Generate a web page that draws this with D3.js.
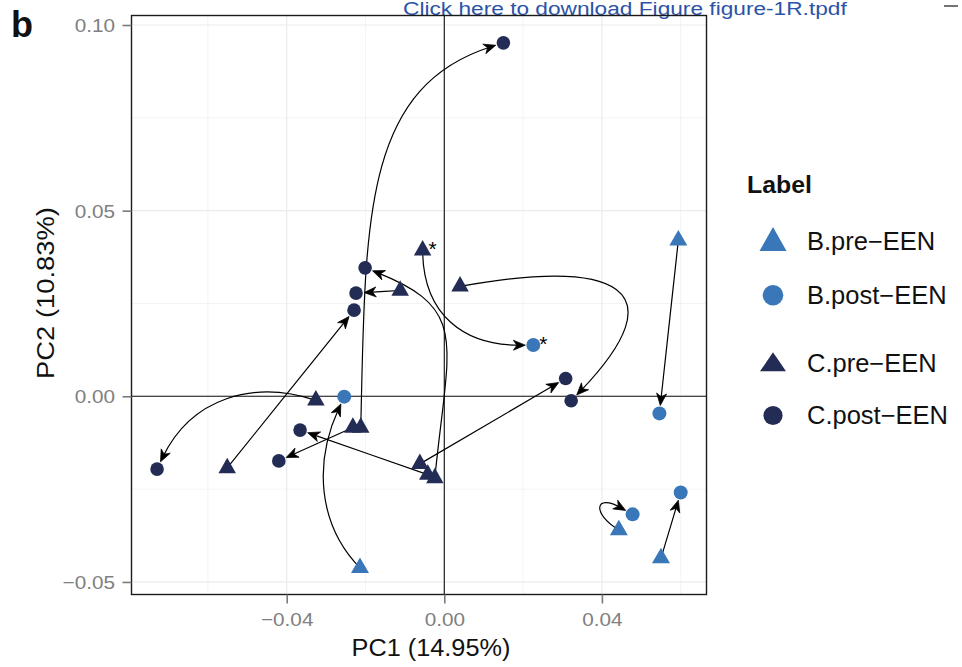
<!DOCTYPE html>
<html><head><meta charset="utf-8">
<script src="https://cdn.jsdelivr.net/npm/d3@7"></script>
<style>
html,body{margin:0;padding:0;background:#fff;}
svg{display:block;font-family:"Liberation Sans",Arial,Helvetica,sans-serif;}
</style>
</head><body>
<svg id="chart" width="962" height="667"></svg>
<script>
// ---------------- data ----------------
const groupNames = ["B.pre\u2212EEN", "B.post\u2212EEN", "C.pre\u2212EEN", "C.post\u2212EEN"];
const bPre  = [[0.0594, 0.0420], [-0.0214, -0.0462], [0.0443, -0.0360], [0.0550, -0.0436]];
const bPost = [[0.0226, 0.0138], [-0.0254, -0.0001], [0.0546, -0.0046], [0.0600, -0.0259], [0.0478, -0.0318]];
const cPre  = [[-0.0055, 0.0393], [-0.0112, 0.0285], [0.0040, 0.0296], [-0.0326, -0.0011], [-0.0232, -0.0084],
               [-0.0212, -0.0084], [-0.0062, -0.0182], [-0.0042, -0.0211], [-0.0024, -0.0220], [-0.0551, -0.0193]];
const cPost = [[0.0150, 0.0952], [-0.0201, 0.0346], [-0.0224, 0.0278], [-0.0229, 0.0232], [0.0308, 0.0048],
               [0.0322, -0.0012], [-0.0366, -0.0091], [-0.0420, -0.0174], [-0.0729, -0.0196]];
// arrows: pre sample -> post sample
const arrowFrom = [["cPre",0],["cPre",2],["cPre",1],["cPre",3],["cPre",9],["cPre",5],["cPre",4],
                   ["cPre",8],["cPre",7],["cPre",6],["bPre",0],["bPre",3],["bPre",2],["bPre",1]];
const arrowTo   = [["bPost",0],["cPost",5],["cPost",2],["cPost",8],["cPost",3],["cPost",0],["cPost",7],
                   ["cPost",1],["cPost",6],["cPost",4],["bPost",2],["bPost",3],["bPost",4],["bPost",1]];
// curve style per arrow: [start angle vs chord (deg), start handle, end angle vs chord (deg), end handle]
const arrowBend = [[49,0.45,-41,0.38],[-56,1.0,88,0.9],[0,0.33,0,0.33],[42,0.38,-41,0.38],[0,0.33,0,0.33],
                   [-19,0.5,52,0.33],[0,0.33,0,0.33],[24,0.62,-50,0.45],[0,0.33,0,0.33],[0,0.33,0,0.33],
                   [0,0.33,0,0.33],[0,0.33,0,0.33],[-101,1.5,78,1.5],[-39,0.35,30,0.35]];
const starred = [["cPre",0],["bPost",0]];
const xTicks = [-0.04, 0.00, 0.04];
const yTicks = [-0.05, 0.00, 0.05, 0.10];
const xMinor = [-0.06, -0.02, 0.02, 0.06];
const yMinor = [-0.025, 0.025, 0.075];
const xTitle = "PC1 (14.95%)";
const yTitle = "PC2 (10.83%)";
const legendTitle = "Label";
const panelLetter = "b";
const headerText = "Click here to download Figure figure-1R.tpdf";

// ---------------- layout ----------------
const colB = "#3A77B8", colC = "#232C55";
const svg = d3.select("#chart");
const P = {l:131.5, r:706.5, t:15.5, b:594.5};
const x = d3.scaleLinear().domain([-0.07939, 0.06655]).range([P.l, P.r]);
const y = d3.scaleLinear().domain([-0.05338, 0.10256]).range([P.b, P.t]);
const sets = {bPre, bPost, cPre, cPost};

function stretch(sel, k) {
  sel.each(function() {
    const w = this.getComputedTextLength();
    d3.select(this).attr("textLength", w * k).attr("lengthAdjust", "spacingAndGlyphs");
  });
}
function triPath(w, h) { return `M0,${-2*h/3}L${w/2},${h/3}L${-w/2},${h/3}Z`; }

// header (link text at the top edge)
svg.append("text").attr("x", 403).attr("y", 15).attr("font-size", 18).attr("fill", "#2B53A7")
  .text(headerText).call(stretch, 1.26);
svg.append("line").attr("x1", 944).attr("x2", 958).attr("y1", 6).attr("y2", 6)
  .attr("stroke", "#444").attr("stroke-width", 1.5);
svg.append("text").attr("x", 11).attr("y", 37).attr("font-size", 36).attr("font-weight", "bold")
  .attr("fill", "#111").text(panelLetter);

// grid
const grid = svg.append("g");
grid.selectAll(".gxm").data(xMinor).join("line").attr("x1", d => x(d)).attr("x2", d => x(d))
  .attr("y1", P.t).attr("y2", P.b).attr("stroke", "#EEEEEE").attr("stroke-width", 0.7);
grid.selectAll(".gym").data(yMinor).join("line").attr("y1", d => y(d)).attr("y2", d => y(d))
  .attr("x1", P.l).attr("x2", P.r).attr("stroke", "#EEEEEE").attr("stroke-width", 0.7);
grid.selectAll(".gx").data(xTicks).join("line").attr("x1", d => x(d)).attr("x2", d => x(d))
  .attr("y1", P.t).attr("y2", P.b).attr("stroke", "#EBEBEB").attr("stroke-width", 1.2);
grid.selectAll(".gy").data(yTicks).join("line").attr("y1", d => y(d)).attr("y2", d => y(d))
  .attr("x1", P.l).attr("x2", P.r).attr("stroke", "#EBEBEB").attr("stroke-width", 1.2);

// zero lines
svg.append("line").attr("x1", x(0)).attr("x2", x(0)).attr("y1", P.t).attr("y2", P.b)
  .attr("stroke", "#111").attr("stroke-width", 1.1);
svg.append("line").attr("y1", y(0)).attr("y2", y(0)).attr("x1", P.l).attr("x2", P.r)
  .attr("stroke", "#111").attr("stroke-width", 1.1);

// arrows
const rad = Math.PI / 180, gap = 8;
const arrows = arrowFrom.map((f, i) => {
  const a = sets[f[0]][f[1]], bb = sets[arrowTo[i][0]][arrowTo[i][1]];
  const p0 = [x(a[0]), y(a[1])], p1 = [x(bb[0]), y(bb[1])];
  const b = arrowBend[i];
  const dx = p1[0] - p0[0], dy = p1[1] - p0[1];
  const L = Math.hypot(dx, dy), ang = Math.atan2(dy, dx);
  const t1 = ang + b[0] * rad, t2 = ang + b[2] * rad;
  const pe = [p1[0] - gap * Math.cos(t2), p1[1] - gap * Math.sin(t2)];
  const pl = [pe[0] - 5 * Math.cos(t2), pe[1] - 5 * Math.sin(t2)];
  const c1 = [p0[0] + b[1] * L * Math.cos(t1), p0[1] + b[1] * L * Math.sin(t1)];
  const c2 = [pl[0] - b[3] * L * Math.cos(t2), pl[1] - b[3] * L * Math.sin(t2)];
  return {p0, c1, c2, pl, pe, t2};
});
const ag = svg.append("g");
ag.selectAll("path.curve").data(arrows).join("path").attr("class", "curve")
  .attr("d", d => `M${d.p0}C${d.c1} ${d.c2} ${d.pl}`)
  .attr("fill", "none").attr("stroke", "#000").attr("stroke-width", 1.2);

// points
const pts = svg.append("g");
pts.selectAll("path.tb").data(bPre).join("path").attr("d", triPath(18, 15.5))
  .attr("transform", d => `translate(${x(d[0])},${y(d[1])})`).attr("fill", colB);
pts.selectAll("path.tc").data(cPre).join("path").attr("d", triPath(17.5, 15.5))
  .attr("transform", d => `translate(${x(d[0])},${y(d[1])})`).attr("fill", colC);
pts.selectAll("circle.cb").data(bPost).join("circle").attr("cx", d => x(d[0])).attr("cy", d => y(d[1]))
  .attr("r", 7).attr("fill", colB);
pts.selectAll("circle.cc").data(cPost).join("circle").attr("cx", d => x(d[0])).attr("cy", d => y(d[1]))
  .attr("r", 6.8).attr("fill", colC);

// arrow heads
ag.selectAll("path.head").data(arrows).join("path").attr("class", "head")
  .attr("d", "M0,0L-12,-5L-8.5,0L-12,5Z")
  .attr("transform", d => `translate(${d.pe}) rotate(${d.t2 / rad})`)
  .attr("fill", "#000").attr("stroke", "#000").attr("stroke-width", 0.7).attr("stroke-linejoin", "miter");

// asterisks
svg.selectAll("text.star").data(starred).join("text").attr("class", "star")
  .attr("x", d => x(sets[d[0]][d[1]][0]) + 6).attr("y", d => y(sets[d[0]][d[1]][1]) + 6)
  .attr("font-size", 21).attr("fill", "#000").text("*");

// panel border
svg.append("rect").attr("x", P.l).attr("y", P.t).attr("width", P.r - P.l).attr("height", P.b - P.t)
  .attr("fill", "none").attr("stroke", "#1a1a1a").attr("stroke-width", 1.4);

// axes
const fmt = d3.format(".2f");
const gx = svg.append("g").attr("transform", `translate(0,${P.b})`)
  .call(d3.axisBottom(x).tickValues(xTicks).tickSize(9).tickFormat(fmt));
const gy = svg.append("g").attr("transform", `translate(${P.l},0)`)
  .call(d3.axisLeft(y).tickValues(yTicks).tickSize(9).tickFormat(fmt));
[gx, gy].forEach(g => {
  g.select(".domain").remove();
  g.selectAll(".tick line").attr("stroke", "#7a7a7a").attr("stroke-width", 1.6);
  g.selectAll(".tick text").attr("fill", "#808080").attr("font-size", 18.5)
    .attr("font-family", "'Liberation Sans',Arial,sans-serif");
});
gx.selectAll(".tick text").attr("y", 31.5).attr("dy", 0).call(stretch, 1.12);
gy.selectAll(".tick text").attr("x", -16.5).attr("dy", "0.36em").call(stretch, 1.12);

// axis titles
svg.append("text").attr("x", 431).attr("y", 656).attr("text-anchor", "middle")
  .attr("font-size", 23).attr("fill", "#111").text(xTitle).call(stretch, 1.1);
svg.append("text").attr("transform", "translate(54,293) rotate(-90)").attr("text-anchor", "middle")
  .attr("font-size", 23).attr("fill", "#111").text(yTitle).call(stretch, 1.19);

// legend
svg.append("text").attr("x", 747).attr("y", 193).attr("font-size", 23).attr("font-weight", "bold")
  .attr("fill", "#111").text(legendTitle).call(stretch, 1.08);
const legendShapes = [
  {type: "tri", col: colB, w: 27, h: 24, cy: 243, ty: 250},
  {type: "circ", col: colB, r: 10.3, cy: 295.3, ty: 304},
  {type: "tri", col: colC, w: 26, h: 19, cy: 365, ty: 372},
  {type: "circ", col: colC, r: 9.6, cy: 415.5, ty: 424}
];
const lg = svg.append("g");
legendShapes.forEach((s, i) => {
  if (s.type === "tri") lg.append("path").attr("d", triPath(s.w, s.h))
    .attr("transform", `translate(773,${s.cy})`).attr("fill", s.col);
  else lg.append("circle").attr("cx", 773).attr("cy", s.cy).attr("r", s.r).attr("fill", s.col);
  lg.append("text").attr("x", 807).attr("y", s.ty).attr("font-size", 25).attr("fill", "#111")
    .text(groupNames[i]).call(stretch, 1.02);
});
</script>
</body></html>
